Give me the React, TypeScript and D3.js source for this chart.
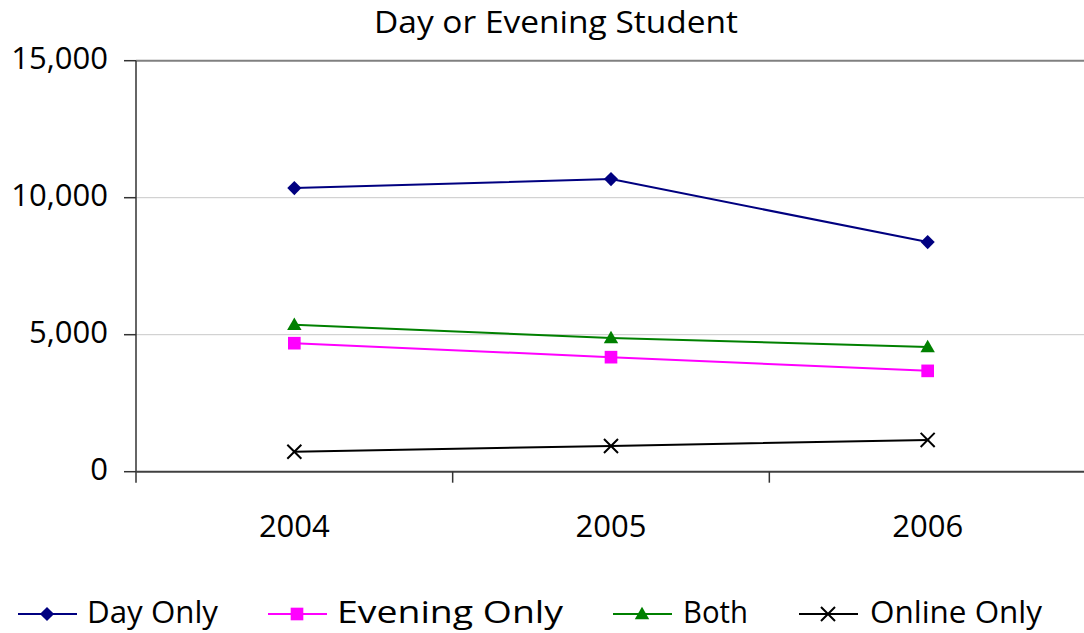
import React from "react";
import * as d3 from "d3";

const years = ["2004", "2005", "2006"];
const dayOnly = [10350, 10680, 8380];
const eveningOnly = [4690, 4180, 3680];
const both = [5360, 4880, 4550];
const onlineOnly = [730, 940, 1160];
const yTicks = [0, 5000, 10000, 15000];
const seriesNames = ["Day Only", "Evening Only", "Both", "Online Only"];

const W = 1084;
const H = 633;
const FONT = "'Open Sans', sans-serif";

type Series = { name: string; values: number[]; color: string; marker: string };

const series: Series[] = [
  { name: seriesNames[0], values: dayOnly, color: "#000080", marker: "diamond" },
  { name: seriesNames[1], values: eveningOnly, color: "#FF00FF", marker: "square" },
  { name: seriesNames[2], values: both, color: "#008000", marker: "triangle" },
  { name: seriesNames[3], values: onlineOnly, color: "#000000", marker: "x" },
];

function Marker({ kind, color, x, y }: { kind: string; color: string; x: number; y: number }) {
  if (kind === "diamond") {
    const p = d3.symbol(d3.symbolSquare, 100)()!;
    return <path d={p} transform={`translate(${x},${y}) rotate(45)`} fill={color} />;
  }
  if (kind === "square") {
    const p = d3.symbol(d3.symbolSquare, 160)()!;
    return <path d={p} transform={`translate(${x},${y})`} fill={color} />;
  }
  if (kind === "triangle") {
    const p = d3.symbol(d3.symbolTriangle, 90)()!;
    return <path d={p} transform={`translate(${x},${y + 1})`} fill={color} />;
  }
  const p = d3.symbol(d3.symbolX, 130)()!;
  return <path d={p} transform={`translate(${x},${y})`} fill="none" stroke={color} strokeWidth={2} />;
}

export default function App() {
  const left = 136;
  const right = 1086;
  const top = 60.7;
  const bottom = 471.7;

  const x = d3.scaleBand<string>().domain(years).range([left, right]);
  const y = d3.scaleLinear().domain([0, 15000]).range([bottom, top]);
  const cx = (yr: string) => (x(yr) as number) + x.bandwidth() / 2;

  const line = d3
    .line<number>()
    .x((_, i) => cx(years[i]))
    .y((v) => y(v));

  const legendX = [18, 268, 613, 799];
  const legendTextX = [87, 337, 683, 870];
  const legendTextW = [131, 226, 65, 172];
  const legendY = 614;

  return (
    <svg
      width={W}
      height={H}
      style={{ position: "absolute", left: 0, top: 0, background: "#fff" }}
      fontFamily={FONT}
    >
      <rect x={0} y={0} width={W} height={H} fill="#fff" />
      <text
        x={374}
        y={33}
        fontSize={31}
        fill="#000"
        textLength={364}
        lengthAdjust="spacingAndGlyphs"
      >
        Day or Evening Student
      </text>

      {/* gridlines */}
      {yTicks.filter((t) => t > 0).map((t) => (
        <line
          key={`g${t}`}
          x1={left}
          x2={W}
          y1={y(t)}
          y2={y(t)}
          stroke={t === 15000 ? "#808080" : "#c8c8c8"}
          strokeWidth={t === 15000 ? 2 : 1}
        />
      ))}

      {/* y axis */}
      <line x1={left} x2={left} y1={top} y2={bottom + 11} stroke="#333" strokeWidth={1.5} />
      {yTicks.map((t) => (
        <g key={`yt${t}`}>
          <line x1={left - 12} x2={left} y1={y(t)} y2={y(t)} stroke="#333" strokeWidth={1.5} />
          <text x={108} y={y(t) + 8} textAnchor="end" fontSize={31} fill="#000">
            {d3.format(",")(t)}
          </text>
        </g>
      ))}

      {/* x axis */}
      <line x1={left} x2={W} y1={bottom} y2={bottom} stroke="#404040" strokeWidth={2} />
      {years.map((yr) => (
        <g key={`xt${yr}`}>
          <line
            x1={(x(yr) as number) + x.bandwidth()}
            x2={(x(yr) as number) + x.bandwidth()}
            y1={bottom}
            y2={bottom + 11}
            stroke="#333"
            strokeWidth={1.5}
          />
          <text x={cx(yr)} y={537} textAnchor="middle" fontSize={31} fill="#000">
            {yr}
          </text>
        </g>
      ))}

      {/* series */}
      {series.map((s) => (
        <g key={s.name}>
          <path d={line(s.values)!} fill="none" stroke={s.color} strokeWidth={2} />
          {s.values.map((v, i) => (
            <Marker key={i} kind={s.marker} color={s.color} x={cx(years[i])} y={y(v)} />
          ))}
        </g>
      ))}

      {/* legend */}
      {series.map((s, i) => (
        <g key={`lg${s.name}`}>
          <line
            x1={legendX[i]}
            x2={legendX[i] + 59}
            y1={legendY}
            y2={legendY}
            stroke={s.color}
            strokeWidth={2}
          />
          <Marker kind={s.marker} color={s.color} x={legendX[i] + 29} y={legendY} />
          <text
            x={legendTextX[i]}
            y={623}
            fontSize={31}
            fill="#000"
            textLength={legendTextW[i]}
            lengthAdjust="spacingAndGlyphs"
          >
            {s.name}
          </text>
        </g>
      ))}
    </svg>
  );
}
